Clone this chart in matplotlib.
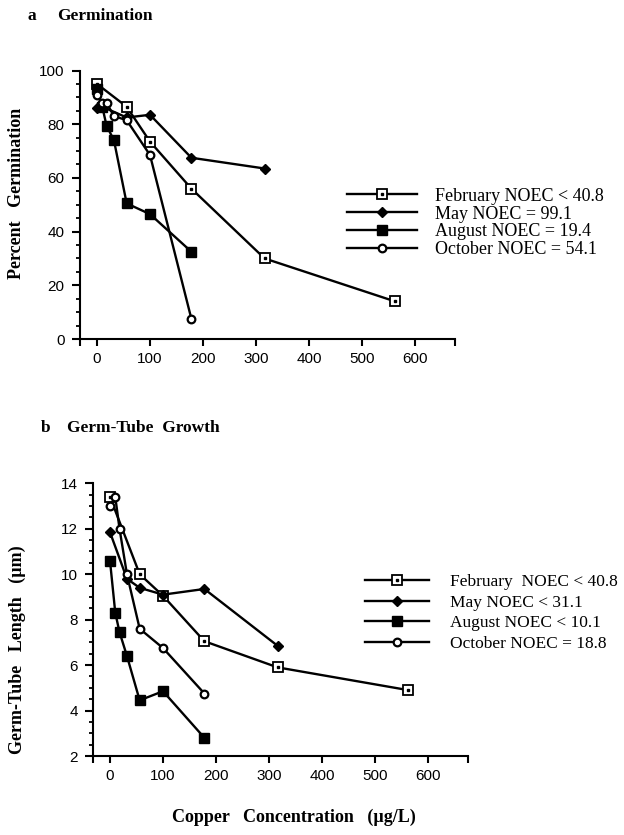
import matplotlib
matplotlib.use("Agg")
import matplotlib.pyplot as plt
from matplotlib.ticker import MultipleLocator
from matplotlib.legend_handler import HandlerTuple

# copper concentrations (ug/L) and responses
# panel a: percent germination
feb_a_x = [0, 56, 100, 178, 316, 562]
feb_a_y = [95, 86.5, 73.5, 56, 30, 14]
may_a_x = [0, 10, 56, 100, 178, 316]
may_a_y = [86, 86.5, 82.5, 83.5, 67.5, 63.5]
aug_a_x = [0, 10, 18, 32, 56, 100, 178]
aug_a_y = [93, 86.5, 79.5, 74, 50.5, 46.5, 32.5]
oct_a_x = [0, 10, 18, 32, 56, 100, 178]
oct_a_y = [91, 88, 88, 83, 81.5, 68.5, 7.5]

# panel b: germ-tube length (um)
feb_b_x = [0, 56, 100, 178, 316, 562]
feb_b_y = [13.4, 10.0, 9.05, 7.05, 5.9, 4.9]
may_b_x = [0, 32, 56, 100, 178, 316]
may_b_y = [11.85, 9.8, 9.4, 9.1, 9.35, 6.85]
aug_b_x = [0, 10, 18, 32, 56, 100, 178]
aug_b_y = [10.6, 8.3, 7.45, 6.4, 4.45, 4.85, 2.8]
oct_b_x = [0, 10, 18, 32, 56, 100, 178]
oct_b_y = [13.0, 13.4, 12.0, 10.0, 7.6, 6.75, 4.75]

legend_a = ["February NOEC < 40.8", "May NOEC = 99.1",
            "August NOEC = 19.4", "October NOEC = 54.1"]
legend_b = ["February  NOEC < 40.8", "May NOEC < 31.1",
            "August NOEC < 10.1", "October NOEC = 18.8"]
x_ticks = [0, 100, 200, 300, 400, 500, 600]

W, H = 624, 835
SERIF = "Liberation Serif"
SANS = "Liberation Sans"


def fx(px):
    return px / W


def fy(py):
    return 1 - py / H


def draw_panel(ax, series, ylim, ymajor, yminor):
    handles = []
    for (x, y, style) in series:
        if style == "feb":
            ln, = ax.plot(x, y, color="black", lw=1.7, marker="s", ms=7.5,
                          mfc="white", mec="black", mew=1.3, zorder=3)
            dot, = ax.plot(x, y, ls="none", marker="s", ms=2, color="black", zorder=4)
            handles.append((ln, dot))
        elif style == "may":
            ln, = ax.plot(x, y, color="black", lw=1.7, marker="D", ms=5.5,
                          mfc="black", mec="black", zorder=3)
            handles.append(ln)
        elif style == "aug":
            ln, = ax.plot(x, y, color="black", lw=1.7, marker="s", ms=7.5,
                          mfc="black", mec="black", zorder=3)
            handles.append(ln)
        else:
            ln, = ax.plot(x, y, color="black", lw=1.7, marker="o", ms=5.5,
                          mfc="white", mec="black", mew=1.6, zorder=3)
            handles.append(ln)

    xmin, xmax = -32, 675
    ax.set_xlim(xmin, xmax)
    ax.set_ylim(*ylim)
    ax.set_xticks([xmin] + x_ticks + [xmax])
    ax.set_xticklabels([""] + [str(t) for t in x_ticks] + [""])
    ax.yaxis.set_major_locator(MultipleLocator(ymajor))
    ax.yaxis.set_minor_locator(MultipleLocator(yminor))
    for s in ["top", "right"]:
        ax.spines[s].set_visible(False)
    for s in ["left", "bottom"]:
        ax.spines[s].set_linewidth(1.5)
    ax.tick_params(axis="x", direction="out", length=5, width=1.5, pad=4, labelsize=11)
    ax.tick_params(axis="y", which="major", direction="out", length=6, width=1.5,
                   pad=5, labelsize=11)
    ax.tick_params(axis="y", which="minor", direction="out", length=3, width=1.3)
    for lab in ax.get_xticklabels() + ax.get_yticklabels():
        lab.set_fontfamily(SANS)
    return handles


fig = plt.figure(figsize=(W / 100, H / 100), dpi=100)

ax_a = fig.add_axes([fx(80), fy(339), fx(455) - fx(80), fy(70.5) - fy(339)])
h_a = draw_panel(ax_a, [(feb_a_x, feb_a_y, "feb"), (may_a_x, may_a_y, "may"),
                        (aug_a_x, aug_a_y, "aug"), (oct_a_x, oct_a_y, "oct")],
                 (0, 100), 20, 5)

ax_b = fig.add_axes([fx(93), fy(756), fx(468) - fx(93), fy(483.3) - fy(756)])
h_b = draw_panel(ax_b, [(feb_b_x, feb_b_y, "feb"), (may_b_x, may_b_y, "may"),
                        (aug_b_x, aug_b_y, "aug"), (oct_b_x, oct_b_y, "oct")],
                 (2, 14), 2, 0.5)

leg_kw = dict(frameon=False, borderpad=0, borderaxespad=0,
              handler_map={tuple: HandlerTuple(ndivide=1, pad=0)})
fig.legend(h_a, legend_a, loc="center left", bbox_to_anchor=(fx(347), fy(223)),
           labelspacing=0.05, handlelength=3.9, handletextpad=1.0,
           prop={"family": SERIF, "size": 13}, **leg_kw)
fig.legend(h_b, legend_b, loc="center left", bbox_to_anchor=(fx(365), fy(613)),
           labelspacing=0.25, handlelength=3.7, handletextpad=1.2,
           prop={"family": SERIF, "size": 12.5}, **leg_kw)

title_kw = dict(family=SERIF, weight="bold", size=12.5, va="center", ha="left")
fig.text(fx(28), fy(16), "a", **title_kw)
fig.text(fx(57), fy(16), "Germination", **title_kw)
fig.text(fx(41), fy(428), "b", **title_kw)
fig.text(fx(67), fy(428), "Germ-Tube  Growth", **title_kw)

lab_kw = dict(family=SERIF, weight="bold", size=13, ha="center", va="center")
fig.text(fx(17), fy(193), "Percent   Germination", rotation=90, **lab_kw)
fig.text(fx(17), fy(650), "Germ-Tube   Length   (\u00b5m)", rotation=90, **lab_kw)
fig.text(fx(294), fy(817), "Copper   Concentration   (\u00b5g/L)", **lab_kw)

fig.savefig("out.png", dpi=100)
